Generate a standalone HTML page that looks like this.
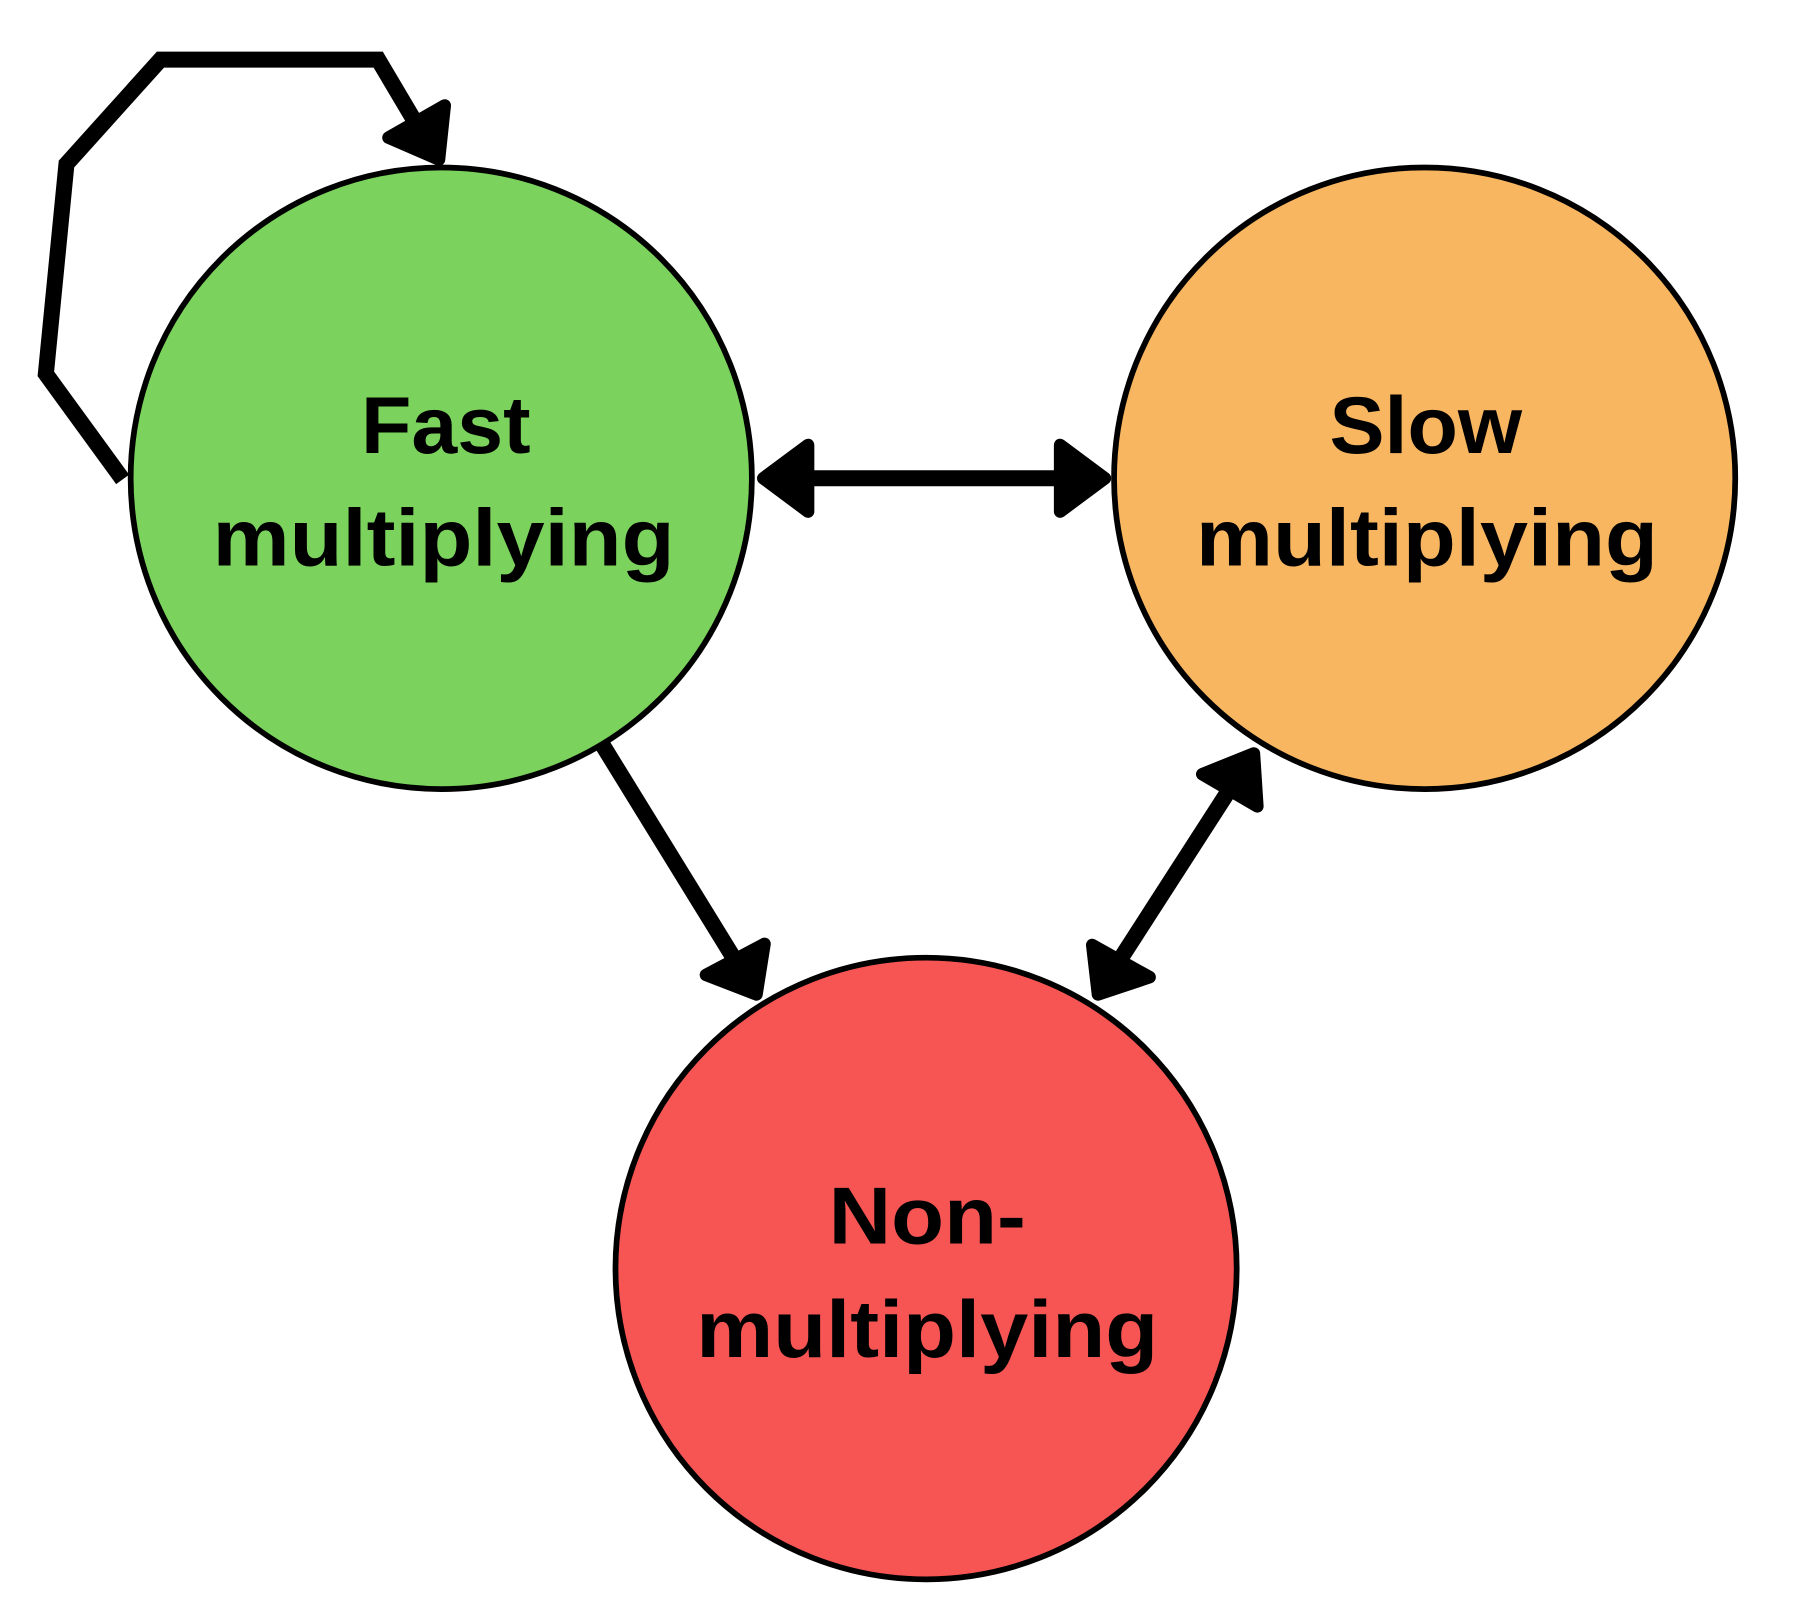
<!DOCTYPE html>
<html><head><meta charset="utf-8"><style>
html,body{margin:0;padding:0;background:#fff;}
svg{display:block;}
text{font-family:"Liberation Sans","DejaVu Sans",sans-serif;font-weight:bold;font-size:70px;fill:#000;text-anchor:middle;}
</style></head><body>
<svg width="1796" height="1608" viewBox="0 0 1567 1402" preserveAspectRatio="none" xmlns="http://www.w3.org/2000/svg">
<g stroke="#000" stroke-width="5">
<circle cx="385" cy="417" r="271" fill="#7bd35d"/>
<circle cx="1243" cy="417" r="271" fill="#f8b660"/>
<circle cx="808" cy="1106" r="271" fill="#f65553"/>
</g>
<g stroke="#000" stroke-width="14" fill="none" stroke-linejoin="miter">
<polyline points="107,418 40,326 58,143 140,52 330,52 362,106"/>
<line x1="700" y1="417" x2="930" y2="417"/>
<line x1="526" y1="650" x2="640" y2="835"/>
<line x1="1073" y1="688" x2="975" y2="840"/>
</g>
<g fill="#000" stroke="#000" stroke-width="11" stroke-linejoin="round">
<polygon points="383,139 339,120 388,92"/>
<polygon points="666,417 705,388 705,446"/>
<polygon points="964,417 925,388 925,446"/>
<polygon points="660,867 616,850 667,823"/>
<polygon points="1094,657 1049,675 1097,703"/>
<polygon points="958,867 953,824 1003,852"/>
</g>
<text x="389" y="395" textLength="148" lengthAdjust="spacingAndGlyphs">Fast</text>
<text x="387" y="493" textLength="403" lengthAdjust="spacingAndGlyphs">multiplying</text>
<text x="1244" y="395" textLength="168" lengthAdjust="spacingAndGlyphs">Slow</text>
<text x="1245" y="493" textLength="403" lengthAdjust="spacingAndGlyphs">multiplying</text>
<text x="809" y="1084" textLength="172" lengthAdjust="spacingAndGlyphs">Non-</text>
<text x="809" y="1183" textLength="403" lengthAdjust="spacingAndGlyphs">multiplying</text>
</svg>
</body></html>
